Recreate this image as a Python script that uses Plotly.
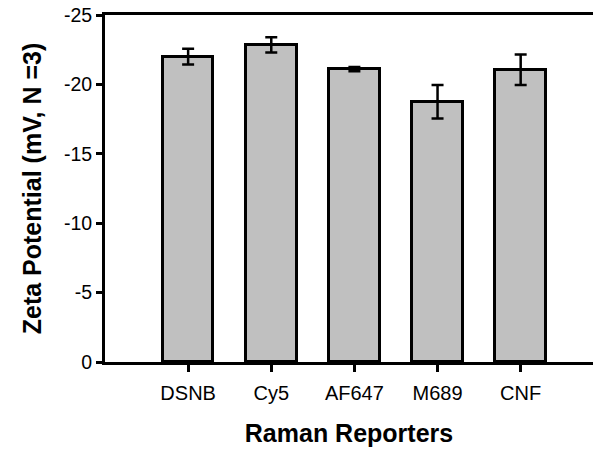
import plotly.graph_objects as go

categories = ["DSNB", "Cy5", "AF647", "M689", "CNF"]
zeta = [-22.0, -22.85, -21.1, -18.75, -21.05]
zeta_err = [0.57, 0.55, 0.15, 1.2, 1.1]
y_ticks = [0, -5, -10, -15, -20, -25]

xpos = list(range(len(categories)))

fig = go.Figure()
fig.add_trace(go.Bar(
    x=xpos, y=zeta, width=0.61,
    marker=dict(color="#c0c0c0", line=dict(color="black", width=3)),
    error_y=dict(type="data", array=zeta_err, visible=True,
                 color="black", thickness=2.5, width=6),
))

font = "Liberation Sans, Arial, sans-serif"
fig.update_layout(
    width=595, height=455,
    margin=dict(l=105, r=2, t=15, b=93),
    paper_bgcolor="white", plot_bgcolor="white",
    showlegend=False,
    font=dict(family=font, size=20, color="black"),
    bargap=0,
)
fig.update_xaxes(
    range=[-1.0, 4.87],
    tickmode="array", tickvals=xpos, ticktext=categories,
    ticks="outside", ticklen=7, tickwidth=3, tickcolor="black",
    showline=True, linecolor="black", linewidth=3, mirror=True,
    showgrid=False, zeroline=False,
    tickfont=dict(size=20), ticklabelstandoff=4,
    title=dict(text="<b>Raman Reporters</b>", font=dict(size=25), standoff=22),
)
fig.update_yaxes(
    range=[0, -25],
    tickmode="array", tickvals=y_ticks, ticktext=[str(v) for v in y_ticks],
    ticks="outside", ticklen=6, tickwidth=3, tickcolor="black",
    showline=True, linecolor="black", linewidth=3,
    showgrid=False, zeroline=False,
    tickfont=dict(size=19.5),
    title=dict(text="<b>Zeta Potential (mV, N =3)</b>", font=dict(size=25), standoff=16),
)

fig.write_html("out.html")
